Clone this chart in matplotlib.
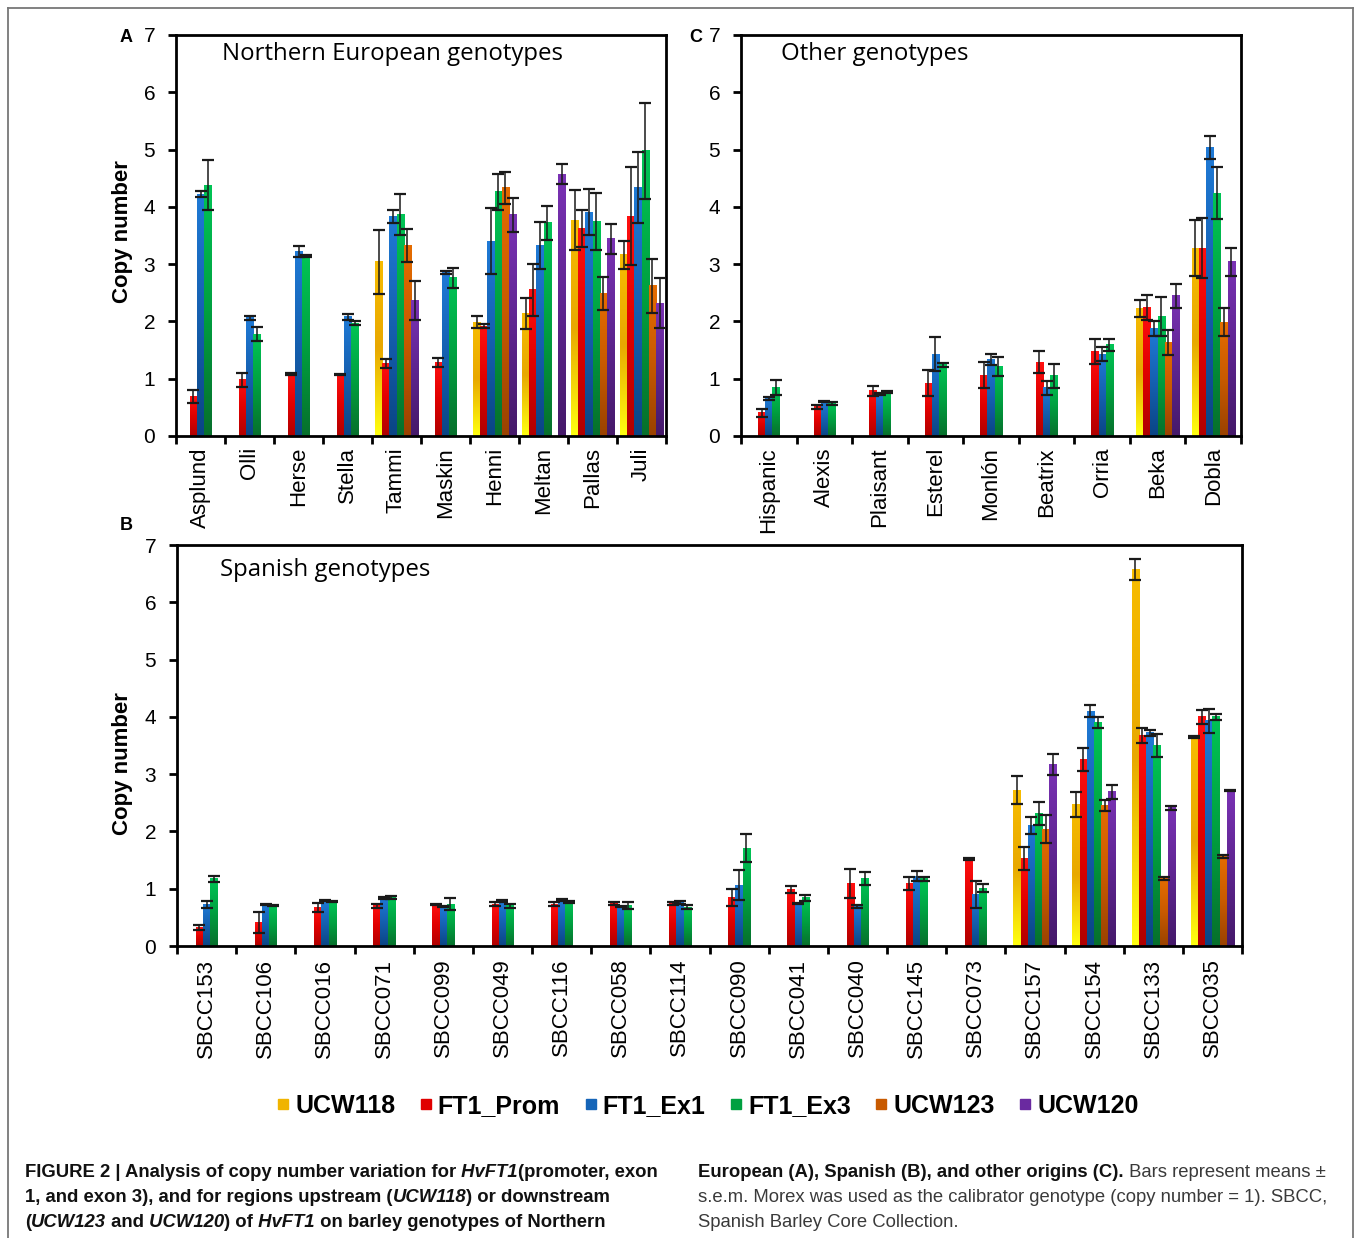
import numpy as np
import matplotlib
matplotlib.use('Agg')
import matplotlib.pyplot as plt
import matplotlib.lines as mlines
from matplotlib.colors import LinearSegmentedColormap
from matplotlib import font_manager

nan = np.nan
W, H = 1357, 1238

series = ['UCW118', 'FT1_Prom', 'FT1_Ex1', 'FT1_Ex3', 'UCW123', 'UCW120']

# panel A - Northern European genotypes
a_names = ['Asplund', 'Olli', 'Herse', 'Stella', 'Tammi', 'Maskin', 'Henni', 'Meltan', 'Pallas', 'Juli']
a_ucw118 = [nan, nan, nan, nan, 3.04, nan, 1.99, 2.14, 3.77, 3.16]
a_prom = [0.69, 0.98, 1.08, 1.08, 1.26, 1.29, 1.92, 2.55, 3.62, 3.84]
a_ex1 = [4.22, 2.06, 3.22, 2.08, 3.83, 2.85, 3.40, 3.32, 3.91, 4.33]
a_ex3 = [4.38, 1.78, 3.14, 1.97, 3.86, 2.76, 4.26, 3.72, 3.74, 4.98]
a_ucw123 = [nan, nan, nan, nan, 3.33, nan, 4.33, nan, 2.49, 2.62]
a_ucw120 = [nan, nan, nan, nan, 2.36, nan, 3.86, 4.57, 3.44, 2.32]
a_err_ucw118 = [nan, nan, nan, nan, 0.56, nan, 0.10, 0.27, 0.53, 0.24]
a_err_prom = [0.12, 0.12, 0.02, 0.01, 0.08, 0.08, 0.03, 0.45, 0.32, 0.85]
a_err_ex1 = [0.05, 0.03, 0.10, 0.05, 0.12, 0.03, 0.58, 0.41, 0.40, 0.62]
a_err_ex3 = [0.44, 0.12, 0.02, 0.03, 0.36, 0.17, 0.32, 0.30, 0.50, 0.84]
a_err_ucw123 = [nan, nan, nan, nan, 0.29, nan, 0.28, nan, 0.29, 0.47]
a_err_ucw120 = [nan, nan, nan, nan, 0.34, nan, 0.30, 0.17, 0.26, 0.44]

# panel C - other genotypes
c_names = ['Hispanic', 'Alexis', 'Plaisant', 'Esterel', 'Monlón', 'Beatrix', 'Orria', 'Beka', 'Dobla']
c_ucw118 = [nan, nan, nan, nan, nan, nan, nan, 2.23, 3.28]
c_prom = [0.41, 0.51, 0.79, 0.92, 1.06, 1.29, 1.48, 2.25, 3.28]
c_ex1 = [0.65, 0.60, 0.73, 1.43, 1.34, 0.84, 1.43, 1.87, 5.04]
c_ex3 = [0.84, 0.57, 0.77, 1.24, 1.21, 1.05, 1.59, 2.09, 4.24]
c_ucw123 = [nan, nan, nan, nan, nan, nan, nan, 1.63, 1.99]
c_ucw120 = [nan, nan, nan, nan, nan, nan, nan, 2.45, 3.04]
c_err_ucw118 = [nan, nan, nan, nan, nan, nan, nan, 0.15, 0.49]
c_err_prom = [0.07, 0.03, 0.09, 0.23, 0.23, 0.19, 0.22, 0.22, 0.53]
c_err_ex1 = [0.03, 0.01, 0.02, 0.30, 0.10, 0.12, 0.12, 0.13, 0.20]
c_err_ex3 = [0.13, 0.03, 0.02, 0.03, 0.17, 0.21, 0.10, 0.34, 0.45]
c_err_ucw123 = [nan, nan, nan, nan, nan, nan, nan, 0.22, 0.25]
c_err_ucw120 = [nan, nan, nan, nan, nan, nan, nan, 0.21, 0.24]

# panel B - Spanish genotypes
b_names = ['SBCC153', 'SBCC106', 'SBCC016', 'SBCC071', 'SBCC099', 'SBCC049', 'SBCC116', 'SBCC058', 'SBCC114',
           'SBCC090', 'SBCC041', 'SBCC040', 'SBCC145', 'SBCC073', 'SBCC157', 'SBCC154', 'SBCC133', 'SBCC035']
b_ucw118 = [nan]*14 + [2.72, 2.47, 6.57, 3.65]
b_prom = [0.32, 0.41, 0.67, 0.70, 0.73, 0.73, 0.73, 0.74, 0.74, 0.84, 0.98, 1.09, 1.09, 1.52, 1.52, 3.25, 3.68, 4.00]
b_ex1 = [0.73, 0.73, 0.79, 0.84, 0.69, 0.78, 0.80, 0.69, 0.76, 1.06, 0.74, 0.69, 1.22, 0.90, 2.10, 4.10, 3.72, 3.93]
b_ex3 = [1.17, 0.70, 0.78, 0.85, 0.73, 0.70, 0.77, 0.71, 0.68, 1.71, 0.84, 1.18, 1.17, 1.01, 2.32, 3.90, 3.50, 4.00]
b_ucw123 = [nan]*14 + [2.04, 2.45, 1.18, 1.56]
b_ucw120 = [nan]*14 + [3.17, 2.69, 2.41, 2.71]
b_err_ucw118 = [nan]*14 + [0.24, 0.21, 0.18, 0.02]
b_err_prom = [0.04, 0.19, 0.08, 0.04, 0.01, 0.04, 0.04, 0.02, 0.02, 0.15, 0.06, 0.25, 0.11, 0.02, 0.20, 0.20, 0.13, 0.12]
b_err_ex1 = [0.06, 0.01, 0.01, 0.02, 0.01, 0.02, 0.02, 0.01, 0.02, 0.26, 0.01, 0.03, 0.09, 0.24, 0.15, 0.10, 0.05, 0.21]
b_err_ex3 = [0.05, 0.01, 0.01, 0.03, 0.10, 0.04, 0.02, 0.06, 0.04, 0.24, 0.05, 0.12, 0.03, 0.07, 0.20, 0.10, 0.20, 0.05]
b_err_ucw123 = [nan]*14 + [0.25, 0.09, 0.03, 0.03]
b_err_ucw120 = [nan]*14 + [0.19, 0.12, 0.04, 0.01]

# gradient stops (bottom -> top) and legend colour per series
grads = [['#ffff10', '#e8a800', '#f7bc00'],
         ['#b00000', '#e00000', '#ff1010'],
         ['#0a4585', '#1560b0', '#1f7ad6'],
         ['#07702c', '#00a040', '#00c455'],
         ['#9a4200', '#c85a00', '#e56c00'],
         ['#45196a', '#5e2590', '#7a32b4']]
legend_cols = ['#f0b400', '#e00000', '#1565b8', '#00a040', '#c85a00', '#6a2aa0']
cmaps = [LinearSegmentedColormap.from_list('g%d' % i, g) for i, g in enumerate(grads)]

tick_font = 'Liberation Sans'
title_font = 'Open Sans'

fig = plt.figure(figsize=(W/100, H/100), dpi=100)


def panel(rect, names, vals, errs, title, title_xy, xlab_pad):
    ax = fig.add_axes(rect)
    n = len(names)
    group_px = rect[2]*W/n
    w = 7.2/group_px
    vals = np.array(vals, dtype=float)
    errs = np.array(errs, dtype=float)
    for g in range(n):
        present = [s for s in range(6) if not np.isnan(vals[s, g])]
        if len(present) == 3:
            offs = {s: (k-1)*w for k, s in enumerate(present)}
        else:
            offs = {s: (s-2.5)*w for s in range(6)}
        for s in present:
            x = g + 0.5 + offs[s]
            h = vals[s, g]
            ax.bar(x, h, w, color='none', edgecolor='none', zorder=2)
            ax.imshow(np.linspace(0, 1, 64).reshape(-1, 1), extent=[x-w/2, x+w/2, 0, h],
                      origin='lower', cmap=cmaps[s], aspect='auto', zorder=2, interpolation='bilinear')
            if not np.isnan(errs[s, g]):
                ax.errorbar(x, h, yerr=errs[s, g], fmt='none', ecolor='#1a1a1a', elinewidth=1.1,
                            capsize=4, capthick=1.6, zorder=3)
    ax.set_xlim(0, n)
    ax.set_ylim(0, 7)
    ax.set_aspect('auto')
    for sp in ax.spines.values():
        sp.set_linewidth(2)
        sp.set_color('black')
    ax.set_xticks(np.arange(n+1))
    ax.set_xticklabels([])
    ax.set_xticks(np.arange(n)+0.5, minor=True)
    ax.set_xticklabels(names, minor=True, rotation=90, fontsize=16, family=tick_font, va='top')
    ax.tick_params(axis='x', which='major', direction='out', length=6, width=2)
    ax.tick_params(axis='x', which='minor', length=0, pad=xlab_pad)
    ax.set_yticks(range(8))
    ax.set_yticklabels([str(i) for i in range(8)], fontsize=15, family=tick_font)
    ax.tick_params(axis='y', direction='out', length=6, width=2, pad=9)
    ax.tick_params(top=False, right=False)
    ax.text(title_xy[0], title_xy[1], title, transform=ax.transAxes, fontsize=17.3,
            family=title_font, va='center', ha='left')
    return ax


rA = [176/W, 1-436/H, 490/W, 401/H]
rC = [741/W, 1-436/H, 500/W, 401/H]
rB = [177/W, 1-946/H, 1065/W, 401/H]

axA = panel(rA, a_names, [a_ucw118, a_prom, a_ex1, a_ex3, a_ucw123, a_ucw120],
            [a_err_ucw118, a_err_prom, a_err_ex1, a_err_ex3, a_err_ucw123, a_err_ucw120],
            'Northern European genotypes', (0.094, 0.952), 8)
axC = panel(rC, c_names, [c_ucw118, c_prom, c_ex1, c_ex3, c_ucw123, c_ucw120],
            [c_err_ucw118, c_err_prom, c_err_ex1, c_err_ex3, c_err_ucw123, c_err_ucw120],
            'Other genotypes', (0.08, 0.952), 8)
axB = panel(rB, b_names, [b_ucw118, b_prom, b_ex1, b_ex3, b_ucw123, b_ucw120],
            [b_err_ucw118, b_err_prom, b_err_ex1, b_err_ex3, b_err_ucw123, b_err_ucw120],
            'Spanish genotypes', (0.040, 0.937), 9)

for ax, yy in [(axA, 0.51), (axB, 0.456)]:
    ax.set_ylabel('Copy number', fontsize=16, fontweight='bold', family=tick_font)
    x_ax = (133 - ax.get_position().x0*W) / (ax.get_position().width*W)
    ax.yaxis.set_label_coords(x_ax, yy)

for lab, x, y in [('A', 126, 38), ('C', 696, 38), ('B', 126, 525)]:
    fig.text(x/W, 1-y/H, lab, fontsize=13, fontweight='bold', family=tick_font, ha='center', va='center')

# legend
handles = [mlines.Line2D([], [], color=legend_cols[i], marker='s', linestyle='None', markersize=6.5, label=series[i])
           for i in range(6)]
fig.legend(handles=handles, loc='center', bbox_to_anchor=(708/W, 1-1106/H), ncol=6, frameon=False,
           prop={'family': tick_font, 'weight': 'bold', 'size': 18}, handlelength=0.45,
           handletextpad=0.25, columnspacing=1.0)

# frame around the figure
for xs, ys in [([8, 8], [8, 1240]), ([8, 1353], [8, 8]), ([1353, 1353], [8, 1240])]:
    fig.add_artist(mlines.Line2D([x/W for x in xs], [1-y/H for y in ys], color='#777777', lw=1.3))

# caption
names_avail = set(f.name for f in font_manager.fontManager.ttflist)
cap_font = 'Liberation Sans Narrow' if 'Liberation Sans Narrow' in names_avail else 'Liberation Sans'
renderer = fig.canvas.get_renderer()
probe = fig.text(0, 0, 'FIGURE 2 | Analysis of copy number variation for HvFT1(promoter, exon',
                 fontsize=12, fontweight='bold', family=cap_font)
cap_size = 12 * 633 / probe.get_window_extent(renderer).width
probe.remove()


def runs_line(x_px, y_px, runs):
    x = x_px
    for s, weight, style in runs:
        col = '#111111' if weight == 'bold' else '#3a3a3a'
        t = fig.text(x/W, 1-y_px/H, s, fontsize=cap_size, fontweight=weight, fontstyle=style,
                     family=cap_font, color=col, va='baseline', ha='left')
        x += t.get_window_extent(renderer).width


B_, N_ = 'bold', 'normal'
runs_line(25, 1177, [('FIGURE 2 | Analysis of copy number variation for', B_, N_), (' HvFT1', B_, 'italic'),
                     ('(promoter, exon', B_, N_)])
runs_line(25, 1202, [('1, and exon 3), and for regions upstream (', B_, N_), ('UCW118', B_, 'italic'),
                     (') or downstream', B_, N_)])
runs_line(25, 1227, [('(', B_, N_), ('UCW123', B_, 'italic'), (' and', B_, N_), (' UCW120', B_, 'italic'),
                     (') of', B_, N_), (' HvFT1', B_, 'italic'), (' on barley genotypes of Northern', B_, N_)])
runs_line(698, 1177, [('European (A), Spanish (B), and other origins (C).', B_, N_),
                      (' Bars represent means \u00b1', N_, N_)])
runs_line(698, 1202, [('s.e.m. Morex was used as the calibrator genotype (copy number = 1). SBCC,', N_, N_)])
runs_line(698, 1227, [('Spanish Barley Core Collection.', N_, N_)])

fig.savefig('out.png', dpi=100)
